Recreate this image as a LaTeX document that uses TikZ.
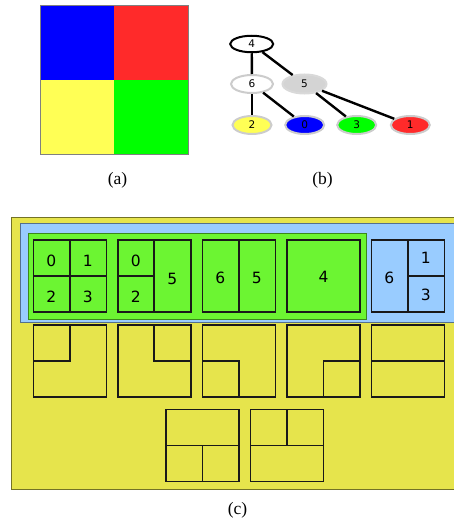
\documentclass[tikz,border=0pt]{standalone}
\usepackage{fontspec}
\setmainfont{Liberation Serif}
\setsansfont{DejaVu Sans}
\usetikzlibrary{calc,shapes.geometric}
\definecolor{aao}{HTML}{0000FF}
\definecolor{aka}{HTML}{FF2A2A}
\definecolor{kii}{HTML}{FFFF55}
\definecolor{mido}{HTML}{00FF00}
\definecolor{haikiiro}{HTML}{E6E44C}
\definecolor{haimizu}{HTML}{99CCFF}
\definecolor{haimido}{HTML}{6CF532}
\tikzset{
  wakusen/.style={line width=1.6pt, draw=black!90},
  suji/.style={font=\sffamily\fontsize{15.5}{18}\selectfont, inner sep=0pt},
  ten/.style={ellipse, draw=black!20, line width=2pt, inner sep=0pt,
    minimum width=39pt, minimum height=18pt, font=\sffamily\fontsize{10.5}{12}\selectfont},
  eda/.style={line width=2.4pt},
  midashi/.style={font=\fontsize{17.5}{20}\selectfont, inner sep=0pt}
}
\newcommand{\waku}[2]{
\coordinate (#1) at (#2); %左上
\coordinate (#1c) at ($(#1)+(36.5,36)$); %中心
\coordinate (#1t) at ($(#1)+(36.5,0)$); %上辺の中点
\coordinate (#1b) at ($(#1)+(36.5,72)$); %下辺の中点
\coordinate (#1l) at ($(#1)+(0,36)$); %左辺の中点
\coordinate (#1r) at ($(#1)+(73,36)$); %右辺の中点
\draw[wakusen] (#1) rectangle ($(#1)+(73,72)$);
}
\begin{document}
\begin{tikzpicture}[x=1pt, y=-1pt]
\useasboundingbox (0,0) rectangle (454,519);

%(a) 画像
\fill[aao] (40.3,6) rectangle (114,80);
\fill[aka] (114,6) rectangle (188.3,80);
\fill[kii] (40.3,80) rectangle (114,154);
\fill[mido] (114,80) rectangle (188.3,154);
\draw[gray, line width=1pt] (40.3,6) rectangle (188.3,154);
\node[midashi] (la) at (117.5,180) {(a)};

%(b) 木
\node[ten, draw=black, fill=white, minimum width=43pt, minimum height=16.5pt] (n4) at (251.7,44) {4};
\node[ten, fill=white, minimum width=42pt] (n6) at (252,84) {6};
\node[ten, draw=black!15, fill=black!17, minimum width=44pt, minimum height=19pt] (n5) at (304.5,84) {5};
\node[ten, fill=kii] (n2) at (252,125) {2};
\node[ten, fill=aao] (n0) at (304.7,125) {0};
\node[ten, fill=mido] (n3) at (356.7,125) {3};
\node[ten, fill=aka] (n1) at (410.3,125) {1};
\draw[eda] (n4) -- (n6);
\draw[eda] (n4) -- (n5);
\draw[eda] (n6) -- (n2);
\draw[eda] (n6) -- (n0);
\draw[eda] (n5) -- (n3);
\draw[eda] (n5) -- (n1);
\node[midashi] (lb) at (322.5,180) {(b)};

%(c) 背景
\draw[fill=haikiiro, draw=black!50!haikiiro, line width=1pt] (11.3,217.7) rectangle (470,489);
\draw[fill=haimizu, draw=black!45!haimizu, line width=1pt] (20.3,223.3) rectangle (470,322.3);
\draw[fill=haimido, draw=black!45!haimido, line width=1pt] (28.7,233.7) rectangle (366.7,319);

%1段目
\waku{B1}{33.3,240}
\draw[wakusen] (B1t) -- (B1b);
\draw[wakusen] (B1l) -- (B1r);
\node[suji] (s10) at ($(B1)+(18,20.5)$) {0};
\node[suji] (s11) at ($(B1)+(54.5,20.5)$) {1};
\node[suji] (s12) at ($(B1)+(18,57)$) {2};
\node[suji] (s13) at ($(B1)+(54.5,57)$) {3};

\waku{B2}{117.7,240}
\draw[wakusen] (B2t) -- (B2b);
\draw[wakusen] (B2l) -- (B2c);
\node[suji] (s20) at ($(B2)+(18,20.5)$) {0};
\node[suji] (s22) at ($(B2)+(18,57)$) {2};
\node[suji] (s25) at ($(B2)+(54.5,38.5)$) {5};

\waku{B3}{202.3,240}
\draw[wakusen] (B3t) -- (B3b);
\node[suji] (s36) at ($(B3)+(18,37.5)$) {6};
\node[suji] (s35) at ($(B3)+(54.5,37.5)$) {5};

\waku{B4}{287,240}
\node[suji] (s44) at ($(B4)+(36.5,36.5)$) {4};

\waku{B5}{371.3,240}
\draw[wakusen] (B5t) -- (B5b);
\draw[wakusen] (B5c) -- (B5r);
\node[suji] (s56) at ($(B5)+(18,37.5)$) {6};
\node[suji] (s51) at ($(B5)+(54.5,18)$) {1};
\node[suji] (s53) at ($(B5)+(54.5,55)$) {3};

%2段目
\waku{C1}{33.3,325}
\draw[wakusen] (C1t) -- (C1c) -- (C1l);
\waku{C2}{117.7,325}
\draw[wakusen] (C2t) -- (C2c) -- (C2r);
\waku{C3}{202.3,325}
\draw[wakusen] (C3l) -- (C3c) -- (C3b);
\waku{C4}{287,325}
\draw[wakusen] (C4r) -- (C4c) -- (C4b);
\waku{C5}{371.3,325}
\draw[wakusen] (C5l) -- (C5r);

%3段目
\waku{D1}{166,409.3}
\draw[wakusen] (D1l) -- (D1r);
\draw[wakusen] (D1c) -- (D1b);
\waku{D2}{250.3,409.3}
\draw[wakusen] (D2l) -- (D2r);
\draw[wakusen] (D2t) -- (D2c);

\node[midashi] (lc) at (237.5,510) {(c)};
\end{tikzpicture}
\end{document}
